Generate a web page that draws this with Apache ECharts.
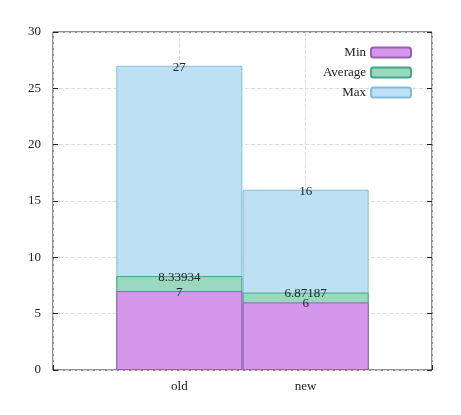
<!DOCTYPE html>
<html><head><meta charset="utf-8">
<script src="https://cdn.jsdelivr.net/npm/echarts@6/dist/echarts.min.js"></script>
<style>html,body{margin:0;padding:0;background:#fff}#c{width:461px;height:415px}</style>
</head><body><div id="c"></div>
<script>
const categories = ['old', 'new'];
const minVals = [7, 6];
const avgVals = [8.33934, 6.87187];
const maxVals = [27, 16];
const yTicks = [0, 5, 10, 15, 20, 25, 30];

const font = 'Liberation Serif, DejaVu Serif, serif';
const pos = v => v.map((y, i) => [i + 1, y]);
function bar(name, vals, fill, border) {
  return {
    name, type: 'bar', data: pos(vals), barWidth: 126, barGap: '-100%',
    itemStyle: { color: fill, borderColor: border, borderWidth: 1 },
    label: { show: true, position: 'top', distance: -8, color: '#222', fontFamily: font, fontSize: 13,
      formatter: p => String(p.value[1]) },
    z: 2
  };
}
const grid = { left: 53, right: 29, top: 32, bottom: 45, show: true, borderColor: '#222', borderWidth: 1 };
const chart = echarts.init(document.getElementById('c'));
chart.setOption({
  animation: false,
  grid,
  legend: {
    orient: 'vertical', right: 44, top: 41, align: 'right', itemWidth: 40, itemHeight: 10, itemGap: 7,
    textStyle: { fontFamily: font, fontSize: 13, color: '#222' },
    data: ['Min', 'Average', 'Max']
  },
  xAxis: [{
    type: 'value', min: 0, max: 3, interval: 1,
    axisLine: { show: false },
    axisTick: { inside: true, length: 5, lineStyle: { color: '#222' } },
    axisLabel: { fontFamily: font, fontSize: 13, color: '#222', margin: 10,
      formatter: v => (v >= 1 && v <= categories.length) ? categories[v - 1] : '' },
    splitLine: { show: true, lineStyle: { color: '#ddd', type: 'dashed' } }
  }],
  yAxis: [{
    type: 'value', min: yTicks[0], max: yTicks[yTicks.length - 1], interval: 5,
    axisLine: { show: false },
    axisTick: { show: true, inside: true, length: 5, lineStyle: { color: '#222' } },
    axisLabel: { fontFamily: font, fontSize: 13, color: '#222', margin: 12 },
    splitLine: { show: true, lineStyle: { color: '#ddd', type: 'dashed' } }
  }, {
    type: 'value', min: 0, max: 30, interval: 5, position: 'right',
    axisLine: { show: false }, axisLabel: { show: false }, splitLine: { show: false },
    axisTick: { show: true, inside: true, length: 5, lineStyle: { color: '#222' } }
  }],
  series: [
    bar('Max', maxVals, '#bde0f4', '#84bcd9'),
    bar('Average', avgVals, '#9ad8c0', '#45a585'),
    bar('Min', minVals, '#d597ea', '#9b5cb8')
  ]
});
</script></body></html>
